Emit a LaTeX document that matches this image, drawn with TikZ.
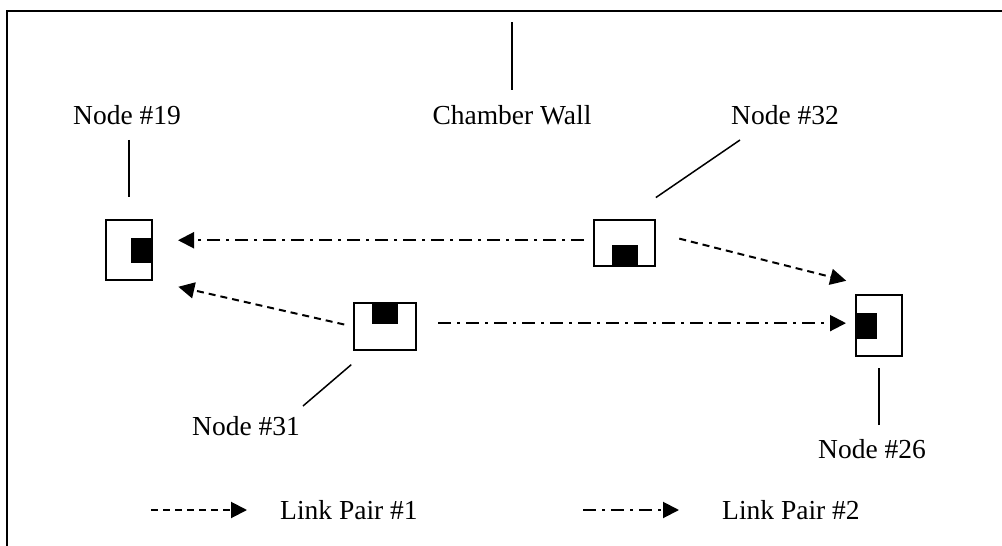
\documentclass[tikz,border=0pt]{standalone}
\usepackage{fontspec}
\setmainfont{Liberation Serif}
\usetikzlibrary{arrows.meta}

\begin{document}
\begin{tikzpicture}
  [x=1pt,y=-1pt,
   lab/.style={inner sep=0pt,font=\fontsize{27.5}{33}\selectfont},
   station/.style={draw,line width=2pt,inner sep=0pt},
   jack/.style={fill=black,inner sep=0pt},
   leader/.style={line width=1.5pt},
   pairone/.style={line width=2pt,dash pattern=on 7pt off 5pt,-{Triangle[length=16pt,width=16pt]}},
   pairtwo/.style={line width=2pt,dash pattern=on 13pt off 6pt on 3pt off 6pt,-{Triangle[length=16pt,width=16pt]}}]
  \useasboundingbox (0,0) rectangle (1002,546);

  % wall of the chamber
  \draw[line width=2pt] (7,546) -- (7,11) -- (1002,11);
  \coordinate (wall) at (512,11);

  % the four stations, black block = antenna side
  \node[station,minimum width=46pt,minimum height=60pt] (n19) at (129,250) {};
  \node[station,minimum width=61pt,minimum height=46pt] (n32) at (624.5,243) {};
  \node[station,minimum width=62pt,minimum height=47pt] (n31) at (385,326.5) {};
  \node[station,minimum width=46pt,minimum height=61pt] (n26) at (879,325.5) {};
  \node[jack,anchor=east,minimum width=22pt,minimum height=25pt] (j19) at (n19.east) {};
  \node[jack,anchor=south,minimum width=26pt,minimum height=22pt] (j32) at (n32.south) {};
  \node[jack,anchor=north,minimum width=26pt,minimum height=22pt] (j31) at (n31.north) {};
  \node[jack,anchor=west,minimum width=22pt,minimum height=26pt] (j26) at (n26.west) {};

  % names
  \node[lab] (lab19) at (127,115) {Node \#19};
  \node[lab] (labwall) at (512,115) {Chamber Wall};
  \node[lab] (lab32) at (785,115) {Node \#32};
  \node[lab] (lab31) at (246,426) {Node \#31};
  \node[lab] (lab26) at (872,449) {Node \#26};
  \coordinate (tip32) at (740,140);
  \coordinate (tip31) at (303,406);

  \draw[leader,shorten <=11pt,shorten >=15pt] (wall) -- (labwall.north);
  \draw[leader,shorten <=15pt,shorten >=22pt] (lab19.south -| n19.north) -- (n19.north);
  \draw[leader,shorten >=38pt] (tip32) -- (n32.north);
  \draw[leader,shorten >=21pt] (tip31) -- (n31.234);
  \draw[leader,shorten <=14pt,shorten >=11pt] (lab26.north -| n26.south) -- (n26.south);

  % links
  \draw[pairtwo,shorten <=9pt,shorten >=25pt] (n32.175) -- (n19.east |- n32.175);
  \draw[pairone,shorten <=9pt,shorten >=26pt] (n31.west) -- (n19.south east);
  \draw[pairtwo,shorten <=21pt,shorten >=9pt] (n31.6) -- (n26.west |- n31.6);
  \draw[pairone,shorten <=24pt,shorten >=9pt] (n32.18) -- ([yshift=11pt]n26.north west);

  % key
  \coordinate (sample1) at (151,510);
  \coordinate (sample2) at (583,510);
  \node[lab,anchor=west] (key1) at (280,510) {Link Pair \#1};
  \node[lab,anchor=west] (key2) at (722,510) {Link Pair \#2};
  \draw[pairone,shorten >=33pt] (sample1) -- (key1.west);
  \draw[pairtwo,shorten >=43pt] (sample2) -- (key2.west);
\end{tikzpicture}
\end{document}
